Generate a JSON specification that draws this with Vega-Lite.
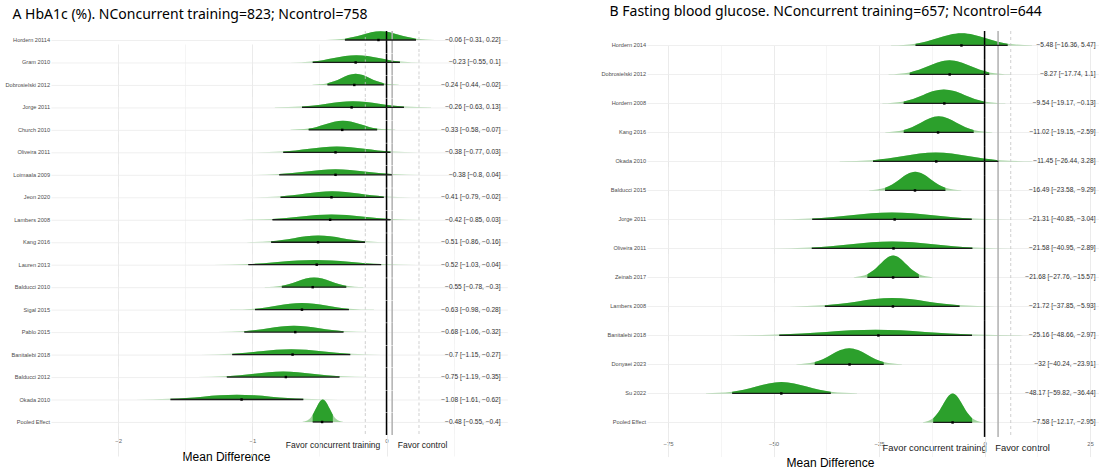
{
  "$schema": "https://vega.github.io/schema/vega-lite/v6.json",
  "padding": 5,
  "background": "white",
  "spacing": 93,
  "config": {"view": {"stroke": null}, "font": "Liberation Sans"},
  "hconcat": [
    {
      "title": {"text": "A  HbA1c (%). NConcurrent training=823; Ncontrol=758", "anchor": "start", "frame": "bounds", "fontSize": 14, "fontWeight": "normal", "font": "Noto Sans", "color": "black", "offset": 8, "dx": 7},
      "data": {"values": [
        {"s": "Hordern 20114", "m": -0.06, "lo": -0.31, "hi": 0.22, "lab": "−0.06 [−0.31, 0.22]", "cx": [-0.451,-0.31,-0.248,-0.18,-0.113,-0.045,0.023,0.09,0.158,0.22,0.361], "cd": [0.03,0.43,0.96,1.79,2.6,2.95,2.6,1.79,0.96,0.43,0.03]},
        {"s": "Gram 2010", "m": -0.23, "lo": -0.55, "hi": 0.1, "lab": "−0.23 [−0.55, 0.1]", "cx": [-0.722,-0.55,-0.474,-0.391,-0.308,-0.225,-0.142,-0.059,0.024,0.1,0.272], "cd": [0.03,0.35,0.78,1.46,2.12,2.41,2.12,1.46,0.78,0.35,0.03]},
        {"s": "Dobrosielski 2012", "m": -0.24, "lo": -0.44, "hi": -0.02, "lab": "−0.24 [−0.44, −0.02]", "cx": [-0.551,-0.44,-0.391,-0.337,-0.284,-0.23,-0.176,-0.123,-0.069,-0.02,0.091], "cd": [0.04,0.55,1.21,2.26,3.29,3.73,3.29,2.26,1.21,0.55,0.04]},
        {"s": "Jorge 2011", "m": -0.26, "lo": -0.63, "hi": 0.13, "lab": "−0.26 [−0.63, 0.13]", "cx": [-0.832,-0.63,-0.541,-0.444,-0.347,-0.25,-0.153,-0.056,0.041,0.13,0.332], "cd": [0.02,0.3,0.67,1.25,1.82,2.06,1.82,1.25,0.67,0.3,0.02]},
        {"s": "Church 2010", "m": -0.33, "lo": -0.58, "hi": -0.07, "lab": "−0.33 [−0.58, −0.07]", "cx": [-0.715,-0.58,-0.52,-0.455,-0.39,-0.325,-0.26,-0.195,-0.13,-0.07,0.065], "cd": [0.03,0.45,1,1.86,2.7,3.07,2.7,1.86,1,0.45,0.03]},
        {"s": "Oliveira 2011", "m": -0.38, "lo": -0.77, "hi": 0.03, "lab": "−0.38 [−0.77, 0.03]", "cx": [-0.982,-0.77,-0.676,-0.574,-0.472,-0.37,-0.268,-0.166,-0.064,0.03,0.242], "cd": [0.02,0.29,0.64,1.19,1.72,1.96,1.72,1.19,0.64,0.29,0.02]},
        {"s": "Loimaala 2009", "m": -0.38, "lo": -0.8, "hi": 0.04, "lab": "−0.38 [−0.8, 0.04]", "cx": [-1.023,-0.8,-0.701,-0.594,-0.487,-0.38,-0.273,-0.166,-0.059,0.04,0.263], "cd": [0.02,0.27,0.61,1.13,1.64,1.86,1.64,1.13,0.61,0.27,0.02]},
        {"s": "Jeon 2020", "m": -0.41, "lo": -0.79, "hi": -0.02, "lab": "−0.41 [−0.79, −0.02]", "cx": [-0.994,-0.79,-0.7,-0.601,-0.503,-0.405,-0.307,-0.209,-0.11,-0.02,0.184], "cd": [0.02,0.3,0.66,1.23,1.79,2.03,1.79,1.23,0.66,0.3,0.02]},
        {"s": "Lambers 2008", "m": -0.42, "lo": -0.85, "hi": 0.03, "lab": "−0.42 [−0.85, 0.03]", "cx": [-1.084,-0.85,-0.747,-0.635,-0.522,-0.41,-0.298,-0.186,-0.073,0.03,0.264], "cd": [0.02,0.26,0.58,1.08,1.57,1.78,1.57,1.08,0.58,0.26,0.02]},
        {"s": "Kang 2016", "m": -0.51, "lo": -0.86, "hi": -0.16, "lab": "−0.51 [−0.86, −0.16]", "cx": [-1.046,-0.86,-0.778,-0.689,-0.599,-0.51,-0.421,-0.331,-0.242,-0.16,0.026], "cd": [0.02,0.33,0.73,1.36,1.97,2.23,1.97,1.36,0.73,0.33,0.02]},
        {"s": "Lauren 2013", "m": -0.52, "lo": -1.03, "hi": -0.04, "lab": "−0.52 [−1.03, −0.04]", "cx": [-1.293,-1.03,-0.914,-0.788,-0.661,-0.535,-0.409,-0.282,-0.156,-0.04,0.223], "cd": [0.02,0.23,0.51,0.96,1.39,1.58,1.39,0.96,0.51,0.23,0.02]},
        {"s": "Balducci 2010", "m": -0.55, "lo": -0.78, "hi": -0.3, "lab": "−0.55 [−0.78, −0.3]", "cx": [-0.907,-0.78,-0.724,-0.662,-0.601,-0.54,-0.479,-0.418,-0.356,-0.3,-0.173], "cd": [0.04,0.48,1.06,1.98,2.87,3.26,2.87,1.98,1.06,0.48,0.04]},
        {"s": "Sigal 2015", "m": -0.63, "lo": -0.98, "hi": -0.28, "lab": "−0.63 [−0.98, −0.28]", "cx": [-1.166,-0.98,-0.898,-0.809,-0.719,-0.63,-0.541,-0.451,-0.362,-0.28,-0.094], "cd": [0.02,0.33,0.73,1.36,1.97,2.23,1.97,1.36,0.73,0.33,0.02]},
        {"s": "Pablo 2015", "m": -0.68, "lo": -1.06, "hi": -0.32, "lab": "−0.68 [−1.06, −0.32]", "cx": [-1.256,-1.06,-0.973,-0.879,-0.784,-0.69,-0.596,-0.501,-0.407,-0.32,-0.124], "cd": [0.02,0.31,0.69,1.28,1.86,2.11,1.86,1.28,0.69,0.31,0.02]},
        {"s": "Banitalebi 2018", "m": -0.7, "lo": -1.15, "hi": -0.27, "lab": "−0.7 [−1.15, −0.27]", "cx": [-1.384,-1.15,-1.047,-0.935,-0.822,-0.71,-0.598,-0.486,-0.373,-0.27,-0.036], "cd": [0.02,0.26,0.58,1.08,1.57,1.78,1.57,1.08,0.58,0.26,0.02]},
        {"s": "Balducci 2012", "m": -0.75, "lo": -1.19, "hi": -0.35, "lab": "−0.75 [−1.19, −0.35]", "cx": [-1.413,-1.19,-1.091,-0.984,-0.877,-0.77,-0.663,-0.556,-0.449,-0.35,-0.127], "cd": [0.02,0.27,0.61,1.13,1.64,1.86,1.64,1.13,0.61,0.27,0.02]},
        {"s": "Okada 2010", "m": -1.08, "lo": -1.61, "hi": -0.62, "lab": "−1.08 [−1.61, −0.62]", "cx": [-1.873,-1.61,-1.494,-1.368,-1.241,-1.115,-0.989,-0.862,-0.736,-0.62,-0.357], "cd": [0.02,0.23,0.51,0.96,1.39,1.58,1.39,0.96,0.51,0.23,0.02]},
        {"s": "Pooled Effect", "m": -0.48, "lo": -0.55, "hi": -0.4, "lab": "−0.48 [−0.55, −0.4]", "cx": [-0.625,-0.575,-0.55,-0.525,-0.5,-0.475,-0.45,-0.425,-0.4,-0.375,-0.325], "cd": [0.08,1.01,2.44,4.55,6.62,7.5,6.62,4.55,2.44,1.01,0.08]}
      ]},
      "facet": {"row": {"field": "s", "type": "nominal", "title": null,
        "sort": ["Hordern 20114","Gram 2010","Dobrosielski 2012","Jorge 2011","Church 2010","Oliveira 2011","Loimaala 2009","Jeon 2020","Lambers 2008","Kang 2016","Lauren 2013","Balducci 2010","Sigal 2015","Pablo 2015","Banitalebi 2018","Balducci 2012","Okada 2010","Pooled Effect"],
        "header": {"labelAngle": 0, "labelAlign": "left", "labelBaseline": "alphabetic", "labelFontSize": 5.6, "labelColor": "#4d4d4d", "labelPadding": 1, "labelFont": "Liberation Sans"}}},
      "spacing": {"row": 0.47},
      "bounds": "flush",
      "spec": {
        "width": 456.3,
        "height": 22,
        "layer": [
          {
            "transform": [{"flatten": ["cx", "cd"]}],
            "mark": {"type": "area", "interpolate": "monotone", "color": "#33a02c", "opacity": 0.45},
            "encoding": {
              "x": {"field": "cx", "type": "quantitative", "title": "Mean Difference",
                "scale": {"domain": [-2.5, 0.9], "nice": false, "zero": false},
                "axis": {
                  "values": [-2, -1.5, -1, -0.5, 0, 0.5, -0.05, 0.08],
                  "title": "Mean Difference", "titleFontSize": 12, "titleFontWeight": "normal", "titleColor": "black", "titleFont": "Liberation Sans",
                  "titleX": 175, "titleY": 21, "titleBaseline": "middle", "titleAlign": "center",
                  "domain": false, "ticks": false, "labelPadding": 5, "labelOverlap": false, "labelFlush": false, "labelBound": false,
                  "labelExpr": "datum.value == -0.05 ? 'Favor concurrent training' : datum.value == 0.08 ? 'Favor control' : (datum.value % 1 == 0 ? format(datum.value, 'd') : '')",
                  "labelFontSize": {"condition": {"test": "datum.value == -0.05 || datum.value == 0.08", "value": 8.5}, "value": 6},
                  "labelBaseline": {"condition": {"test": "datum.value == -0.05 || datum.value == 0.08", "value": "top"}, "value": "middle"},
                  "labelAlign": {"condition": [{"test": "datum.value == -0.05", "value": "right"}, {"test": "datum.value == 0.08", "value": "left"}], "value": "center"},
                  "labelColor": {"condition": {"test": "datum.value == -0.05 || datum.value == 0.08", "value": "#1a1a1a"}, "value": "#666666"},
                  "gridColor": {"condition": {"test": "datum.value % 1 == 0", "value": "#e6e6e6"}, "value": "#f2f2f2"},
                  "gridOpacity": {"condition": {"test": "datum.value == -0.05 || datum.value == 0.08", "value": 0}, "value": 1},
                  "gridWidth": 0.8
                }},
              "y": {"field": "cd", "type": "quantitative", "title": null,
                "scale": {"domain": [0, 10], "range": [9, -21], "nice": false, "zero": false},
                "axis": {"values": [0], "grid": true, "gridColor": "#ebebeb", "gridWidth": 0.8, "labels": false, "ticks": false, "domain": false, "title": null}}
            }
          },
          {
            "transform": [{"flatten": ["cx", "cd"]}, {"filter": "datum.cx >= datum.lo - 0.000001 && datum.cx <= datum.hi + 0.000001"}],
            "mark": {"type": "area", "interpolate": "monotone", "color": "#2ca02c", "opacity": 1},
            "encoding": {
              "x": {"field": "cx", "type": "quantitative", "title": "Mean Difference"},
              "y": {"field": "cd", "type": "quantitative", "title": null}
            }
          },
          {"mark": {"type": "rule", "color": "#c4c4c4", "strokeDash": [3, 3], "strokeWidth": 0.8}, "encoding": {"x": {"datum": -0.158}}},
          {"mark": {"type": "rule", "color": "#c4c4c4", "strokeDash": [3, 3], "strokeWidth": 0.8}, "encoding": {"x": {"datum": 0.242}}},
          {"mark": {"type": "rule", "color": "#b0b0b0", "strokeWidth": 1.5}, "encoding": {"x": {"datum": 0.042}}},
          {"mark": {"type": "rule", "color": "black", "strokeWidth": 1.5}, "encoding": {"x": {"datum": 0}}},
          {"mark": {"type": "rule", "color": "#1a1a1a", "strokeWidth": 1.3}, "encoding": {"x": {"field": "lo", "type": "quantitative", "title": "Mean Difference"}, "x2": {"field": "hi"}, "y": {"datum": 0}}},
          {"mark": {"type": "point", "shape": "square", "filled": true, "color": "black", "size": 6, "opacity": 1}, "encoding": {"x": {"field": "m", "type": "quantitative", "title": "Mean Difference"}, "y": {"datum": 0}}},
          {"mark": {"type": "text", "align": "right", "baseline": "middle", "fontSize": 6.6, "color": "#333333", "font": "Liberation Sans"}, "encoding": {"x": {"datum": 0.85}, "y": {"datum": 0}, "text": {"field": "lab"}}}
        ]
      }
    },
    {
      "title": {"text": "B  Fasting blood glucose. NConcurrent training=657; Ncontrol=644", "anchor": "start", "frame": "bounds", "fontSize": 14, "fontWeight": "normal", "font": "Noto Sans", "color": "black", "offset": 11, "dx": 8},
      "data": {"values": [
        {"s": "Hordern 2014", "m": -5.48, "lo": -16.36, "hi": 5.47, "lab": "−5.48 [−16.36, 5.47]", "cx": [-22.15,-16.36,-13.8,-11.01,-8.23,-5.45,-2.66,0.12,2.91,5.47,11.26], "cd": [0.0008,0.0105,0.0233,0.0435,0.0632,0.0716,0.0632,0.0435,0.0233,0.0105,0.0008]},
        {"s": "Dobrosielski 2012", "m": -8.27, "lo": -17.74, "hi": 1.1, "lab": "−8.27 [−17.74, 1.1]", "cx": [-22.74,-17.74,-15.53,-13.13,-10.72,-8.32,-5.92,-3.51,-1.11,1.1,6.1], "cd": [0.0009,0.0122,0.027,0.0504,0.0732,0.083,0.0732,0.0504,0.027,0.0122,0.0009]},
        {"s": "Hordern 2008", "m": -9.54, "lo": -19.17, "hi": -0.13, "lab": "−9.54 [−19.17, −0.13]", "cx": [-24.22,-19.17,-16.94,-14.51,-12.08,-9.65,-7.22,-4.79,-2.36,-0.13,4.92], "cd": [0.0009,0.0121,0.0267,0.0498,0.0724,0.0821,0.0724,0.0498,0.0267,0.0121,0.0009]},
        {"s": "Kang 2016", "m": -11.02, "lo": -19.15, "hi": -2.59, "lab": "−11.02 [−19.15, −2.59]", "cx": [-23.54,-19.15,-17.21,-15.09,-12.98,-10.87,-8.76,-6.65,-4.53,-2.59,1.8], "cd": [0.001,0.0139,0.0307,0.0573,0.0833,0.0944,0.0833,0.0573,0.0307,0.0139,0.001]},
        {"s": "Okada 2010", "m": -11.45, "lo": -26.44, "hi": 3.28, "lab": "−11.45 [−26.44, 3.28]", "cx": [-34.33,-26.44,-22.95,-19.16,-15.37,-11.58,-7.79,-4,-0.21,3.28,11.17], "cd": [0.0006,0.0077,0.0171,0.0319,0.0464,0.0526,0.0464,0.0319,0.0171,0.0077,0.0006]},
        {"s": "Balducci 2015", "m": -16.49, "lo": -23.58, "hi": -9.29, "lab": "−16.49 [−23.58, −9.29]", "cx": [-27.37,-23.58,-21.9,-20.08,-18.26,-16.44,-14.61,-12.79,-10.97,-9.29,-5.5], "cd": [0.0012,0.0161,0.0356,0.0664,0.0965,0.1094,0.0965,0.0664,0.0356,0.0161,0.0012]},
        {"s": "Jorge 2011", "m": -21.31, "lo": -40.85, "hi": -3.04, "lab": "−21.31 [−40.85, −3.04]", "cx": [-50.88,-40.85,-36.41,-31.59,-26.77,-21.95,-17.12,-12.3,-7.48,-3.04,6.99], "cd": [0.0005,0.0061,0.0135,0.0251,0.0365,0.0414,0.0365,0.0251,0.0135,0.0061,0.0005]},
        {"s": "Oliveira 2011", "m": -21.58, "lo": -40.95, "hi": -2.89, "lab": "−21.58 [−40.95, −2.89]", "cx": [-51.05,-40.95,-36.48,-31.63,-26.78,-21.92,-17.07,-12.21,-7.36,-2.89,7.21], "cd": [0.0005,0.006,0.0134,0.0249,0.0362,0.0411,0.0362,0.0249,0.0134,0.006,0.0005]},
        {"s": "Zeinab 2017", "m": -21.68, "lo": -27.76, "hi": -15.57, "lab": "−21.68 [−27.76, −15.57]", "cx": [-30.99,-27.76,-26.33,-24.78,-23.22,-21.67,-20.11,-18.56,-17,-15.57,-12.34], "cd": [0.0014,0.0189,0.0417,0.0779,0.1132,0.1283,0.1132,0.0779,0.0417,0.0189,0.0014]},
        {"s": "Lambers 2008", "m": -21.72, "lo": -37.85, "hi": -5.93, "lab": "−21.72 [−37.85, −5.93]", "cx": [-46.32,-37.85,-34.1,-30.03,-25.96,-21.89,-17.82,-13.75,-9.68,-5.93,2.54], "cd": [0.0005,0.0072,0.0159,0.0297,0.0432,0.049,0.0432,0.0297,0.0159,0.0072,0.0005]},
        {"s": "Banitalebi 2018", "m": -25.16, "lo": -48.66, "hi": -2.97, "lab": "−25.16 [−48.66, −2.97]", "cx": [-60.78,-48.66,-43.3,-37.47,-31.64,-25.82,-19.99,-14.16,-8.33,-2.97,9.15], "cd": [0.0004,0.005,0.0111,0.0208,0.0302,0.0342,0.0302,0.0208,0.0111,0.005,0.0004]},
        {"s": "Donyaei 2023", "m": -32, "lo": -40.24, "hi": -23.91, "lab": "−32 [−40.24, −23.91]", "cx": [-44.57,-40.24,-38.32,-36.24,-34.16,-32.08,-29.99,-27.91,-25.83,-23.91,-19.58], "cd": [0.0011,0.0141,0.0311,0.0581,0.0845,0.0958,0.0845,0.0581,0.0311,0.0141,0.0011]},
        {"s": "Su 2022", "m": -48.17, "lo": -59.82, "hi": -36.44, "lab": "−48.17 [−59.82, −36.44]", "cx": [-66.02,-59.82,-57.08,-54.09,-51.11,-48.13,-45.15,-42.17,-39.18,-36.44,-30.24], "cd": [0.0007,0.0098,0.0217,0.0406,0.059,0.0669,0.059,0.0406,0.0217,0.0098,0.0007]},
        {"s": "Pooled Effect", "m": -7.58, "lo": -12.17, "hi": -2.95, "lab": "−7.58 [−12.17, −2.95]", "cx": [-14.62,-12.17,-11.09,-9.91,-8.74,-7.56,-6.38,-5.21,-4.03,-2.95,-0.5], "cd": [0.0019,0.0249,0.0551,0.1029,0.1496,0.1696,0.1496,0.1029,0.0551,0.0249,0.0019]}
      ]},
      "facet": {"row": {"field": "s", "type": "nominal", "title": null,
        "sort": ["Hordern 2014","Dobrosielski 2012","Hordern 2008","Kang 2016","Okada 2010","Balducci 2015","Jorge 2011","Oliveira 2011","Zeinab 2017","Lambers 2008","Banitalebi 2018","Donyaei 2023","Su 2022","Pooled Effect"],
        "header": {"labelAngle": 0, "labelAlign": "left", "labelFontSize": 5.6, "labelColor": "#4d4d4d", "labelPadding": 1, "labelFont": "Liberation Sans"}}},
      "spacing": {"row": 0},
      "bounds": "flush",
      "spec": {
        "width": 451.5,
        "height": 28.92,
        "layer": [
          {
            "transform": [{"flatten": ["cx", "cd"]}],
            "mark": {"type": "area", "interpolate": "monotone", "color": "#33a02c", "opacity": 0.45},
            "encoding": {
              "x": {"field": "cx", "type": "quantitative", "title": "Mean Difference",
                "scale": {"domain": [-80, 27], "nice": false, "zero": false},
                "axis": {
                  "values": [-75, -62.5, -50, -37.5, -25, -12.5, 0, 12.5, 25, 0.4, 2.4],
                  "title": "Mean Difference", "titleFontSize": 12, "titleFontWeight": "normal", "titleColor": "black", "titleFont": "Liberation Sans",
                  "titleX": 183, "titleY": 25.5, "titleBaseline": "middle", "titleAlign": "center",
                  "domain": false, "ticks": false, "labelPadding": 6.5, "labelOverlap": false, "labelFlush": false, "labelBound": false,
                  "labelExpr": "datum.value == 0.4 ? 'Favor concurrent training' : datum.value == 2.4 ? 'Favor control' : (datum.value % 25 == 0 ? format(datum.value, 'd') : '')",
                  "labelFontSize": {"condition": {"test": "datum.value == 0.4 || datum.value == 2.4", "value": 9.4}, "value": 6},
                  "labelBaseline": {"condition": {"test": "datum.value == 0.4 || datum.value == 2.4", "value": "top"}, "value": "middle"},
                  "labelAlign": {"condition": [{"test": "datum.value == 0.4", "value": "right"}, {"test": "datum.value == 2.4", "value": "left"}], "value": "center"},
                  "labelColor": {"condition": {"test": "datum.value == 0.4 || datum.value == 2.4", "value": "#1a1a1a"}, "value": "#666666"},
                  "gridColor": {"condition": {"test": "datum.value % 25 == 0", "value": "#e6e6e6"}, "value": "#f2f2f2"},
                  "gridOpacity": {"condition": {"test": "datum.value == 0.4 || datum.value == 2.4", "value": 0}, "value": 1},
                  "gridWidth": 0.8
                }},
              "y": {"field": "cd", "type": "quantitative", "title": null,
                "scale": {"domain": [0, 0.2], "range": [14.46, -19.62], "nice": false, "zero": false},
                "axis": {"values": [0], "grid": true, "gridColor": "#ebebeb", "gridWidth": 0.8, "labels": false, "ticks": false, "domain": false, "title": null}}
            }
          },
          {
            "transform": [{"flatten": ["cx", "cd"]}, {"filter": "datum.cx >= datum.lo - 0.000001 && datum.cx <= datum.hi + 0.000001"}],
            "mark": {"type": "area", "interpolate": "monotone", "color": "#2ca02c", "opacity": 1},
            "encoding": {
              "x": {"field": "cx", "type": "quantitative", "title": "Mean Difference"},
              "y": {"field": "cd", "type": "quantitative", "title": null}
            }
          },
          {"mark": {"type": "rule", "color": "#c4c4c4", "strokeDash": [3, 3], "strokeWidth": 0.8}, "encoding": {"x": {"datum": 6.2}}},
          {"mark": {"type": "rule", "color": "#b0b0b0", "strokeWidth": 1.5}, "encoding": {"x": {"datum": 3.2}}},
          {"mark": {"type": "rule", "color": "black", "strokeWidth": 1.5}, "encoding": {"x": {"datum": 0}}},
          {"mark": {"type": "rule", "color": "#1a1a1a", "strokeWidth": 1.3}, "encoding": {"x": {"field": "lo", "type": "quantitative", "title": "Mean Difference"}, "x2": {"field": "hi"}, "y": {"datum": 0}}},
          {"mark": {"type": "point", "shape": "square", "filled": true, "color": "black", "size": 6, "opacity": 1}, "encoding": {"x": {"field": "m", "type": "quantitative", "title": "Mean Difference"}, "y": {"datum": 0}}},
          {"mark": {"type": "text", "align": "right", "baseline": "middle", "fontSize": 6.6, "color": "#333333", "font": "Liberation Sans"}, "encoding": {"x": {"datum": 26.3}, "y": {"datum": 0}, "text": {"field": "lab"}}}
        ]
      }
    }
  ]
}
